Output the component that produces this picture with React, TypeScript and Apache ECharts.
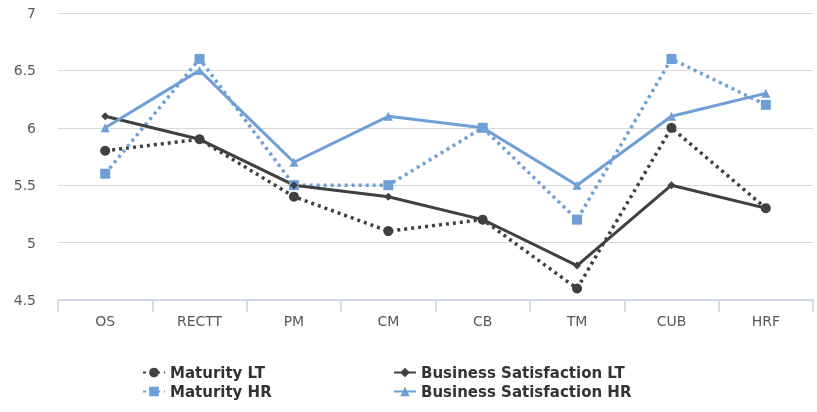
import React, { useEffect, useRef } from "react";
import * as echarts from "echarts";

const categories = ["OS", "RECTT", "PM", "CM", "CB", "TM", "CUB", "HRF"];
const maturityLT = [5.8, 5.9, 5.4, 5.1, 5.2, 4.6, 6.0, 5.3];
const businessLT = [6.1, 5.9, 5.5, 5.4, 5.2, 4.8, 5.5, 5.3];
const maturityHR = [5.6, 6.6, 5.5, 5.5, 6.0, 5.2, 6.6, 6.2];
const businessHR = [6.0, 6.5, 5.7, 6.1, 6.0, 5.5, 6.1, 6.3];

const DARK = "#404040";
const BLUE = "#6e9fd6";

export default function App() {
  const ref = useRef<HTMLDivElement>(null);
  useEffect(() => {
    const chart = echarts.init(ref.current!, null, { renderer: "svg" });
    const font = "DejaVu Sans";
    const legendBase = {
      orient: "horizontal",
      itemGap: 4,
      itemWidth: 22,
      itemHeight: 12,
      padding: 0,
      textStyle: { fontFamily: font, fontSize: 15, fontWeight: "bold", color: "#333" },
    };
    chart.setOption({
      animation: false,
      textStyle: { fontFamily: font },
      grid: { left: 58, right: 4, top: 13, bottom: 112 },
      legend: [
        { ...legendBase, left: 142, top: 365, data: ["Maturity LT"] },
        { ...legendBase, left: 142, top: 384, data: ["Maturity HR"] },
        { ...legendBase, left: 393, top: 365, data: ["Business Satisfaction LT"] },
        { ...legendBase, left: 393, top: 384, data: ["Business Satisfaction HR"] },
      ],
      xAxis: {
        type: "category",
        data: categories,
        boundaryGap: true,
        axisLine: { lineStyle: { color: "#c8d3e0", width: 1.5 } },
        axisTick: { show: true, length: 12, lineStyle: { color: "#c8d3e0", width: 1.5 } },
        axisLabel: { color: "#595959", fontSize: 14, margin: 14, fontFamily: font },
      },
      yAxis: {
        type: "value",
        min: 4.5,
        max: 7,
        interval: 0.5,
        axisLine: { show: false },
        axisTick: { show: false },
        axisLabel: { color: "#595959", fontSize: 14, margin: 22, fontFamily: font },
        splitLine: { lineStyle: { color: "#d9d9d9", width: 1 } },
      },
      series: [
        {
          name: "Maturity LT",
          type: "line",
          data: maturityLT,
          symbol: "circle",
          symbolSize: 10,
          itemStyle: { color: DARK },
          lineStyle: { color: DARK, width: 3.5, type: [3, 4] },
        },
        {
          name: "Maturity HR",
          type: "line",
          data: maturityHR,
          symbol: "rect",
          symbolSize: 10,
          itemStyle: { color: BLUE },
          lineStyle: { color: BLUE, width: 3.5, type: [3, 4] },
        },
        {
          name: "Business Satisfaction LT",
          type: "line",
          data: businessLT,
          symbol: "diamond",
          symbolSize: 8,
          itemStyle: { color: DARK },
          lineStyle: { color: DARK, width: 3 },
        },
        {
          name: "Business Satisfaction HR",
          type: "line",
          data: businessHR,
          symbol: "triangle",
          symbolSize: 9,
          itemStyle: { color: BLUE },
          lineStyle: { color: BLUE, width: 3 },
        },
      ],
    });
    return () => chart.dispose();
  }, []);
  return (
    <div
      ref={ref}
      style={{ position: "fixed", left: 0, top: 0, width: 817, height: 412 }}
    />
  );
}
